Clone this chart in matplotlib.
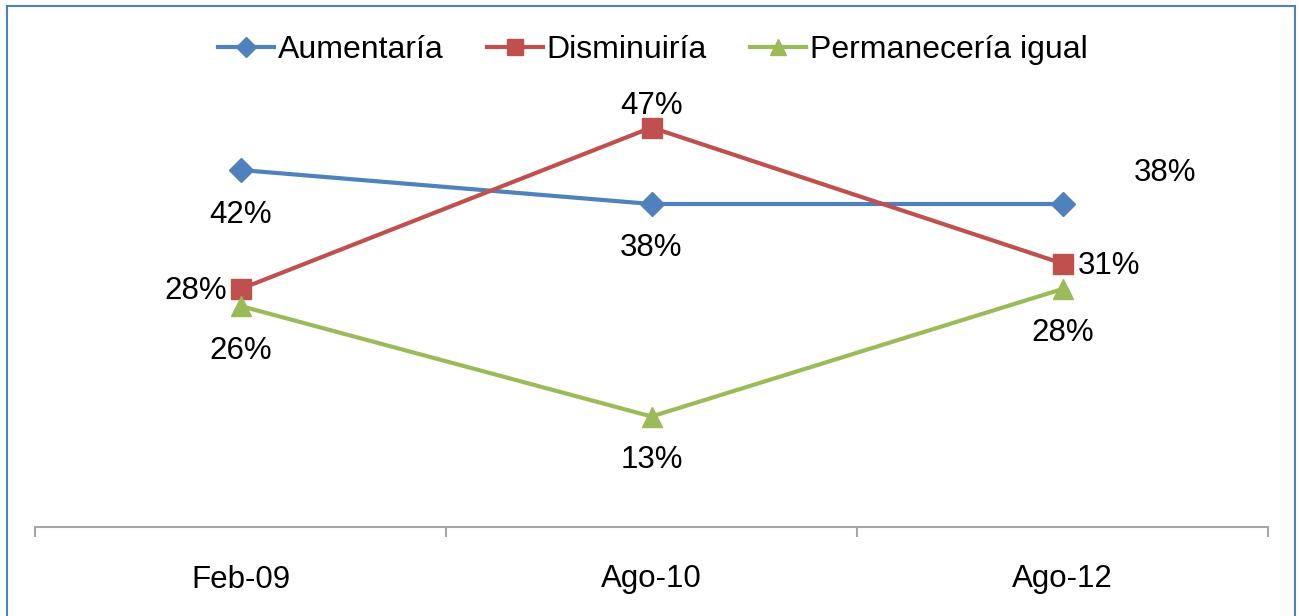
import matplotlib.pyplot as plt
from matplotlib.patches import Rectangle

plt.rcParams['font.family'] = ['Liberation Sans', 'DejaVu Sans']

periods = ['Feb-09', 'Ago-10', 'Ago-12']
aumentaria = [42, 38, 38]
disminuiria = [28, 47, 31]
permaneceria = [26, 13, 28]

series = [
    ('Aumentaría', aumentaria, '#4F81BD', 'D', 12.5),
    ('Disminuiría', disminuiria, '#C0504D', 's', 14),
    ('Permanecería igual', permaneceria, '#9BBB59', '^', 14),
]

# label offsets in pixels (dx, dy) for each point of each series
label_offsets = {
    'Aumentaría': [(0, -45), (0, -44), (103, 31)],
    'Disminuiría': [(-45, -2), (0, 21), (47, -2)],
    'Permanecería igual': [(0, -45), (0, -44), (0, -44)],
}

fig = plt.figure(figsize=(12.99, 6.16), dpi=100)
ax = fig.add_axes([35 / 1299, 1 - 527 / 616, 1233 / 1299, 425 / 616])

x = list(range(len(periods)))
for name, vals, color, marker, ms in series:
    ax.plot(x, vals, color=color, lw=3, marker=marker, markersize=ms,
            label=name, clip_on=False)
    for xi, v, (dx, dy) in zip(x, vals, label_offsets[name]):
        ax.annotate(f'{v}%', (xi, v), xytext=(dx, dy), textcoords='offset pixels',
                    ha='center', va='center', fontsize=22.5, color='black')

ax.set_xlim(-0.5, 2.5)
ax.set_ylim(0, 50)
for s in ['top', 'left', 'right']:
    ax.spines[s].set_visible(False)
ax.spines['bottom'].set_color('#A6A6A6')
ax.spines['bottom'].set_linewidth(1.5)
ax.set_yticks([])
ax.set_xticks(x)
ax.set_xticklabels(periods, fontsize=22.5)
ax.tick_params(axis='x', which='major', length=0, pad=27)
ax.set_xticks([-0.5, 0.5, 1.5, 2.5], minor=True)
ax.tick_params(axis='x', which='minor', length=7, width=1.5, color='#A6A6A6', direction='out')

fig.legend(loc='center', bbox_to_anchor=(653 / 1299, 1 - 50 / 616), ncol=3,
           frameon=False, fontsize=23, handlelength=1.75, handletextpad=0.12,
           columnspacing=1.35, markerscale=0.85)

fig.patches.append(Rectangle((7 / 1299, -0.1), 1288 / 1299, 1.1 - 6 / 616,
                             transform=fig.transFigure, fill=False,
                             edgecolor='#4F81BD', lw=1.5))

fig.savefig('out.png', dpi=100)
